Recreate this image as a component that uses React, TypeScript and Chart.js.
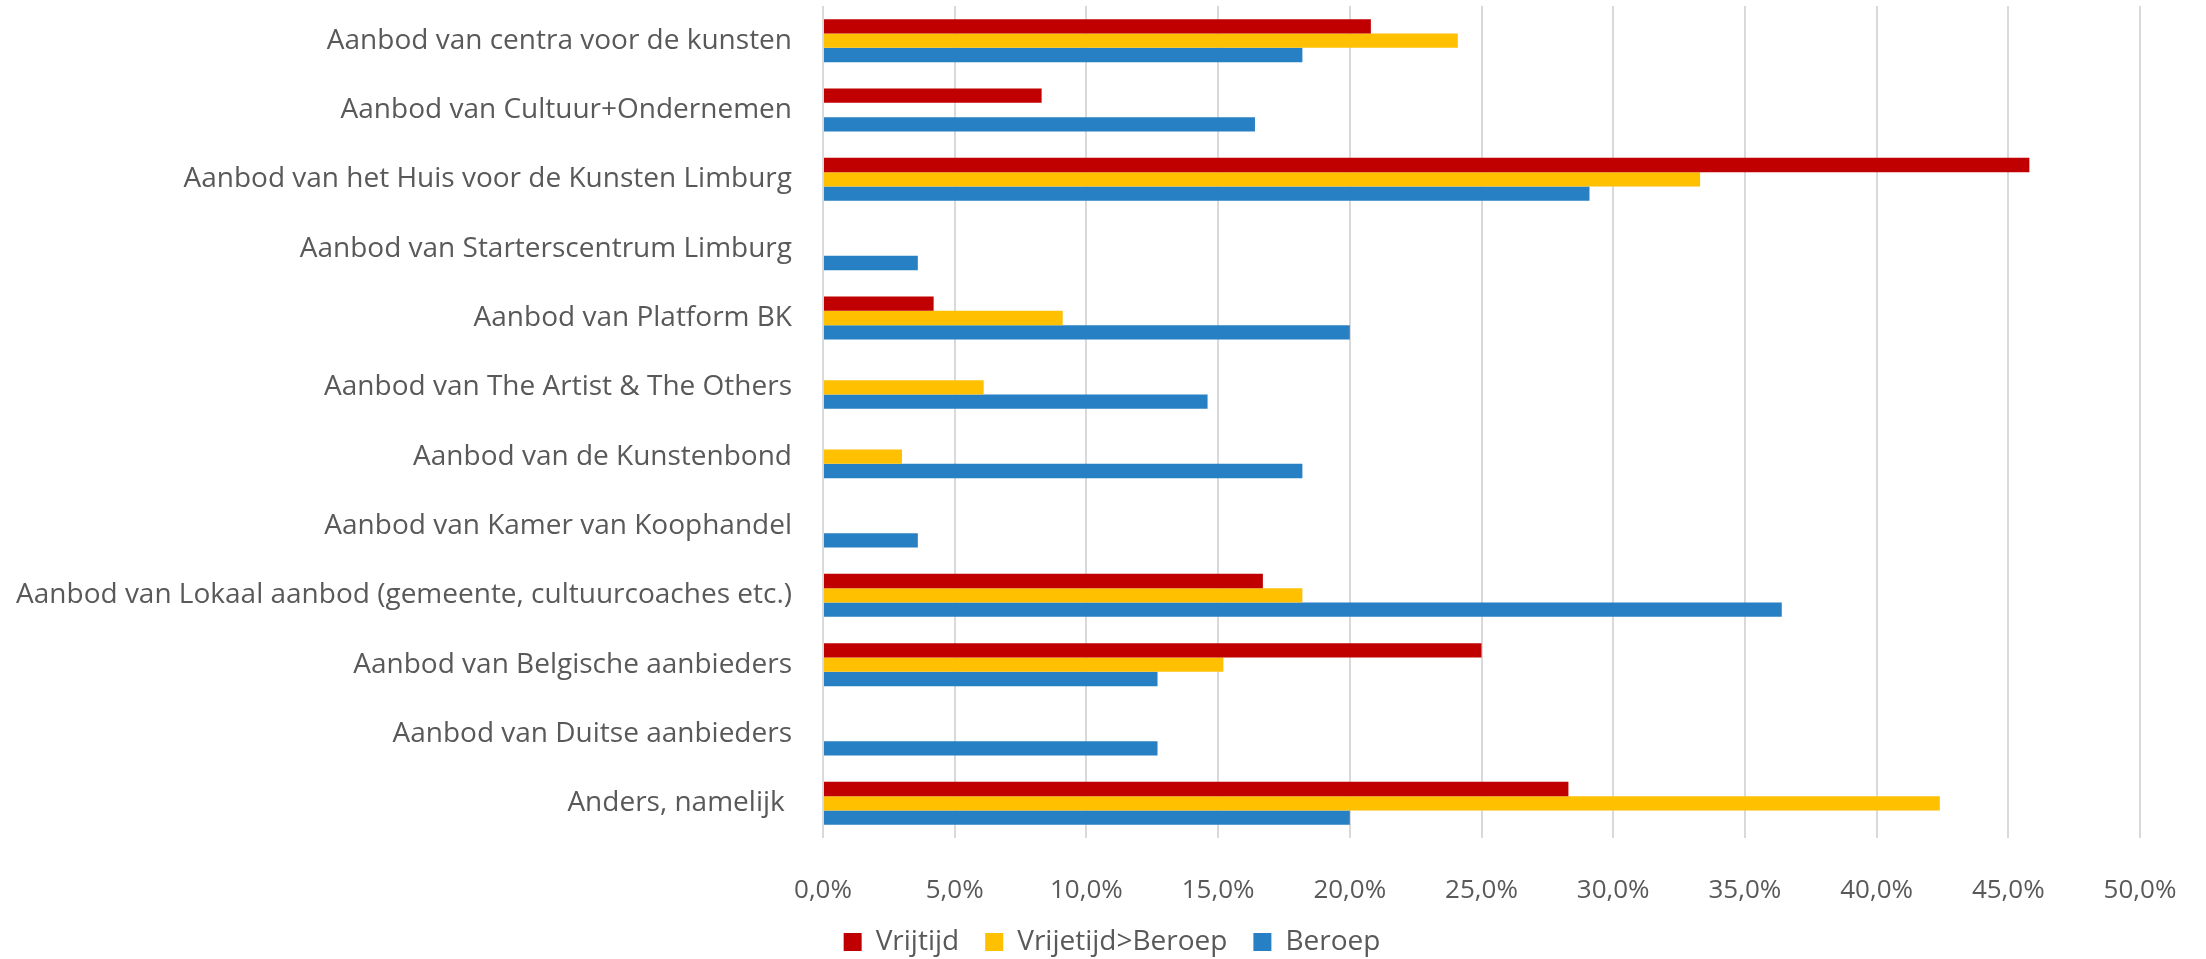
import React, { useEffect, useRef } from "react";
import { Chart, registerables } from "chart.js";

Chart.register(...registerables);

const categories = [
  "Aanbod van centra voor de kunsten",
  "Aanbod van Cultuur+Ondernemen",
  "Aanbod van het Huis voor de Kunsten Limburg",
  "Aanbod van Starterscentrum Limburg",
  "Aanbod van Platform BK",
  "Aanbod van The Artist & The Others",
  "Aanbod van de Kunstenbond",
  "Aanbod van Kamer van Koophandel",
  "Aanbod van Lokaal aanbod (gemeente, cultuurcoaches etc.)",
  "Aanbod van Belgische aanbieders",
  "Aanbod van Duitse aanbieders",
  "Anders, namelijk ",
];

const seriesNames = ["Vrijtijd", "Vrijetijd>Beroep", "Beroep"];

const vrijtijd = [20.8, 8.3, 45.8, null, 4.2, null, null, null, 16.7, 25.0, null, 28.3];
const vrijetijdBeroep = [24.1, null, 33.3, null, 9.1, 6.1, 3.0, null, 18.2, 15.2, null, 42.4];
const beroep = [18.2, 16.4, 29.1, 3.6, 20.0, 14.6, 18.2, 3.6, 36.4, 12.7, 12.7, 20.0];

const xMin = 0;
const xMax = 50;
const xStep = 5;

const colors = ["#C00000", "#FFC000", "#2780C4"];

const FONT = "'Open Sans', sans-serif";
const TEXT_COLOR = "#595959";

const legendShift = {
  id: "legendShift",
  afterLayout(chart: any) {
    const lg = chart.legend;
    if (lg) {
      lg.left += 42;
      lg.right += 42;
    }
  },
};

export default function App() {
  const ref = useRef<HTMLCanvasElement | null>(null);

  useEffect(() => {
    document.body.style.margin = "0";
    const canvas = ref.current;
    if (!canvas) return;
    const chart = new Chart(canvas, {
      type: "bar",
      data: {
        labels: categories,
        datasets: [vrijtijd, vrijetijdBeroep, beroep].map((d, i) => ({
          label: seriesNames[i],
          data: d,
          backgroundColor: colors[i],
          borderWidth: 0,
          categoryPercentage: 0.62,
          barPercentage: 1,
        })),
      },
      plugins: [legendShift],
      options: {
        indexAxis: "y",
        responsive: false,
        animation: false,
        maintainAspectRatio: false,
        layout: { padding: { top: 6, right: 66, left: 0, bottom: -7 } },
        plugins: {
          legend: {
            position: "bottom",
            labels: {
              color: TEXT_COLOR,
              font: { family: FONT, size: 28 },
              boxWidth: 18,
              boxHeight: 18,
              padding: 26,
            },
          },
          tooltip: { enabled: false },
        },
        scales: {
          x: {
            min: xMin,
            max: xMax,
            ticks: {
              stepSize: xStep,
              color: TEXT_COLOR,
              font: { family: FONT, size: 26 },
              padding: 37,
              maxRotation: 0,
              callback: (v: any) => Number(v).toFixed(1).replace(".", ",") + "%",
            },
            grid: { color: "#d9d9d9", lineWidth: 2, drawTicks: false },
            border: { display: false },
            afterFit: (scale: any) => {
              scale.height = 64;
              scale.paddingLeft = 0;
              scale.paddingRight = 0;
            },
          },
          y: {
            ticks: {
              color: TEXT_COLOR,
              font: { family: FONT, size: 28 },
              padding: 31,
              autoSkip: false,
            },
            grid: { display: false, drawTicks: false },
            border: { display: false },
            afterFit: (scale: any) => {
              scale.width = 823;
              scale.paddingTop = 0;
              scale.paddingBottom = 0;
            },
          },
        },
      },
    });
    return () => chart.destroy();
  }, []);

  return (
    <canvas
      ref={ref}
      width={2206}
      height={959}
      style={{ display: "block", width: "2206px", height: "959px" }}
    />
  );
}
